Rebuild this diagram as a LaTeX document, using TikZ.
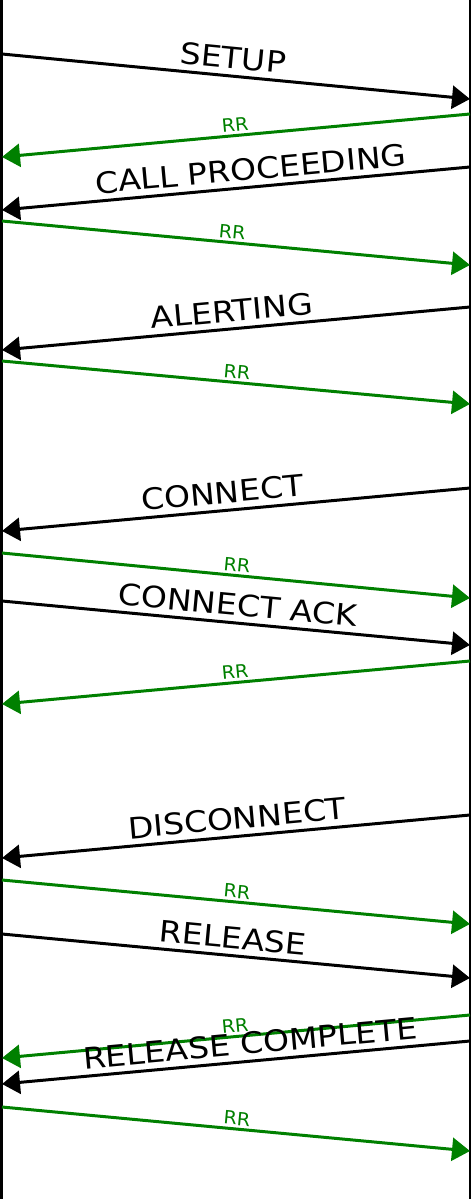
\documentclass[tikz,border=0pt]{standalone}
\usepackage{fontspec}
\setmainfont{DejaVu Sans}
\usetikzlibrary{arrows.meta}
\definecolor{rrgreen}{HTML}{008000}
\begin{document}
\begin{tikzpicture}[x=1pt,y=-1pt,
  life/.style={line width=2.4pt},
  msg/.style={line width=3pt, -{Triangle[length=18pt,width=23pt]}},
  rrmsg/.style={msg, draw=rrgreen, color=rrgreen},
  biglbl/.style={sloped, font=\fontsize{29.5}{35}\selectfont, xscale=1.12, yshift=18pt, inner sep=0pt, text=black},
  rrlbl/.style={sloped, font=\fontsize{18.3}{22}\selectfont, xscale=1.05, yshift=10.5pt, inner sep=0pt, text=rrgreen}]
\useasboundingbox (0,0) rectangle (472,1199);

% lifelines
\coordinate (Ltop) at (1.5,0);   \coordinate (Lbot) at (1.5,1199);
\coordinate (Rtop) at (470,0); \coordinate (Rbot) at (470,1199);
\draw[life] (Ltop) -- (Lbot);
\draw[life] (Rtop) -- (Rbot);

% message end points on the lifelines
\coordinate (m1a) at (2,54);    \coordinate (m1b) at (470,99);
\coordinate (m2a) at (470,114); \coordinate (m2b) at (2,157);
\coordinate (m3a) at (470,167); \coordinate (m3b) at (2,210);
\coordinate (m4a) at (2,221);   \coordinate (m4b) at (470,265);
\coordinate (m5a) at (470,307); \coordinate (m5b) at (2,350);
\coordinate (m6a) at (2,361);   \coordinate (m6b) at (470,404);
\coordinate (m7a) at (470,488); \coordinate (m7b) at (2,531);
\coordinate (m8a) at (2,553);   \coordinate (m8b) at (470,598);
\coordinate (m9a) at (2,601);   \coordinate (m9b) at (470,645);
\coordinate (m10a) at (470,661); \coordinate (m10b) at (2,704);
\coordinate (m11a) at (470,815); \coordinate (m11b) at (2,858);
\coordinate (m12a) at (2,880);   \coordinate (m12b) at (470,924);
\coordinate (m13a) at (2,934);   \coordinate (m13b) at (470,978);
\coordinate (m14a) at (470,1015); \coordinate (m14b) at (2,1058);
\coordinate (m15a) at (470,1041); \coordinate (m15b) at (2,1084);
\coordinate (m16a) at (2,1107);  \coordinate (m16b) at (470,1151);

% call setup
\draw[msg] (m1a) -- (m1b) node[biglbl, pos=0.49] (l1) {SETUP};
\draw[rrmsg] (m2a) -- (m2b) node[rrlbl, pos=0.5] (l2) {RR};
\draw[msg] (m3a) -- (m3b) node[biglbl, pos=0.465] (l3) {CALL PROCEEDING};
\draw[rrmsg] (m4a) -- (m4b) node[rrlbl, pos=0.49] (l4) {RR};
\draw[msg] (m5a) -- (m5b) node[biglbl, pos=0.506] (l5) {ALERTING};
\draw[rrmsg] (m6a) -- (m6b) node[rrlbl, pos=0.5] (l6) {RR};
\draw[msg] (m7a) -- (m7b) node[biglbl, pos=0.526] (l7) {CONNECT};
\draw[rrmsg] (m8a) -- (m8b) node[rrlbl, pos=0.5] (l8) {RR};
\draw[msg] (m9a) -- (m9b) node[biglbl, pos=0.5] (l9) {CONNECT ACK};
\draw[rrmsg] (m10a) -- (m10b) node[rrlbl, pos=0.5] (l10) {RR};

% call clearing
\draw[msg] (m11a) -- (m11b) node[biglbl, pos=0.494] (l11) {DISCONNECT};
\draw[rrmsg] (m12a) -- (m12b) node[rrlbl, pos=0.5] (l12) {RR};
\draw[msg] (m13a) -- (m13b) node[biglbl, pos=0.49] (l13) {RELEASE};
\draw[rrmsg] (m14a) -- (m14b) node[rrlbl, pos=0.5] (l14) {RR};
\draw[msg] (m15a) -- (m15b) node[biglbl, pos=0.466] (l15) {RELEASE COMPLETE};
\draw[rrmsg] (m16a) -- (m16b) node[rrlbl, pos=0.5] (l16) {RR};
\end{tikzpicture}
\end{document}
